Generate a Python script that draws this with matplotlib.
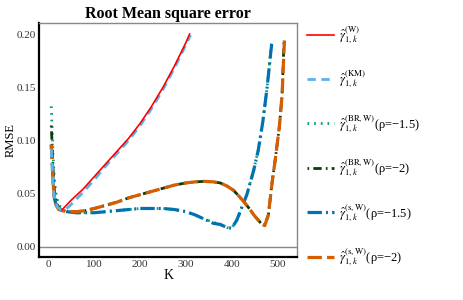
import matplotlib
matplotlib.use("Agg")
import matplotlib.pyplot as plt
from matplotlib.ticker import FormatStrFormatter

plt.rcParams["font.family"] = ["Liberation Serif", "DejaVu Serif"]
plt.rcParams["mathtext.fontset"] = "stix"

# values
k_w = [30, 50, 75, 100, 125, 150, 175, 200, 225, 250, 275, 300, 308]
rmse_w = [0.035, 0.044, 0.054, 0.066, 0.078, 0.090, 0.102, 0.116, 0.132,
          0.150, 0.170, 0.192, 0.200]

k_km = [6, 10, 15, 20, 30, 40, 50, 75, 100, 125, 150, 175, 200, 225, 250,
        275, 300, 310]
rmse_km = [0.092, 0.055, 0.042, 0.037, 0.034, 0.036, 0.040, 0.051, 0.063,
           0.076, 0.088, 0.100, 0.114, 0.130, 0.148, 0.168, 0.190, 0.199]

k_br15 = [6, 8, 10, 13, 17, 22, 30, 40, 60, 80, 100, 125, 150, 175, 200,
          225, 250, 275, 300, 320, 340, 360, 375, 390, 400, 411, 422, 433,
          448, 458, 468, 477, 487]
rmse_br15 = [0.132, 0.110, 0.085, 0.062, 0.048, 0.040, 0.035, 0.033, 0.032,
             0.032, 0.032, 0.033, 0.034, 0.035, 0.036, 0.036, 0.036, 0.035,
             0.033, 0.030, 0.026, 0.023, 0.021, 0.018, 0.0175, 0.025, 0.037,
             0.049, 0.072, 0.091, 0.118, 0.149, 0.192]

k_br2 = [6, 8, 10, 13, 17, 22, 30, 40, 50, 62, 80, 100, 125, 150, 175, 200,
         225, 250, 275, 300, 320, 340, 360, 375, 390, 404, 417, 429, 440,
         448, 458, 466, 472, 480, 488, 495, 504, 510, 514]
rmse_br2 = [0.114, 0.095, 0.072, 0.052, 0.042, 0.037, 0.034, 0.033, 0.033,
            0.033, 0.034, 0.036, 0.039, 0.042, 0.046, 0.049, 0.052, 0.055,
            0.058, 0.060, 0.061, 0.0615, 0.061, 0.060, 0.057, 0.053, 0.047,
            0.041, 0.035, 0.030, 0.025, 0.021, 0.020, 0.030, 0.060, 0.082,
            0.113, 0.143, 0.192]

k_s15 = [6, 8, 10, 13, 17, 22, 30, 40, 60, 80, 100, 125, 150, 175, 200,
         225, 250, 275, 300, 320, 340, 360, 375, 390, 400, 411, 422, 433,
         448, 458, 468, 477, 488]
rmse_s15 = [0.096, 0.080, 0.060, 0.045, 0.039, 0.036, 0.034, 0.033, 0.032,
            0.032, 0.032, 0.033, 0.034, 0.035, 0.036, 0.036, 0.036, 0.035,
            0.033, 0.030, 0.026, 0.022, 0.021, 0.018, 0.0175, 0.025, 0.037,
            0.049, 0.072, 0.091, 0.118, 0.149, 0.194]

k_s2 = [6, 8, 10, 13, 17, 22, 30, 40, 50, 62, 80, 100, 125, 150, 175, 200,
        225, 250, 275, 300, 320, 340, 360, 375, 390, 404, 417, 429, 440, 448,
        458, 466, 472, 480, 488, 495, 504, 510, 515]
rmse_s2 = [0.096, 0.080, 0.060, 0.045, 0.039, 0.035, 0.034, 0.033, 0.033,
           0.033, 0.034, 0.036, 0.039, 0.042, 0.046, 0.049, 0.052, 0.055,
           0.058, 0.060, 0.061, 0.0615, 0.061, 0.060, 0.057, 0.053, 0.047,
           0.041, 0.035, 0.030, 0.025, 0.021, 0.020, 0.030, 0.060, 0.082,
           0.113, 0.143, 0.194]

labels = [
    r"$\hat{\gamma}_{1,k}^{(\mathrm{W})}$",
    r"$\hat{\gamma}_{1,k}^{(\mathrm{KM})}$",
    r"$\hat{\gamma}_{1,k}^{(\mathrm{BR,W})}$(ρ=−1.5)",
    r"$\hat{\gamma}_{1,k}^{(\mathrm{BR,W})}$(ρ=−2)",
    r"$\hat{\gamma}_{1,k}^{(\mathrm{s,W})}$(ρ=−1.5)",
    r"$\hat{\gamma}_{1,k}^{(\mathrm{s,W})}$(ρ=−2)",
]

fig = plt.figure(figsize=(4.63, 3.0), dpi=100)
ax = fig.add_axes([0.085, 0.142, 0.556, 0.780])

ax.axhline(0, color="#888888", lw=1.0, zorder=1)

h_br15, = ax.plot(k_br15, rmse_br15, color="#009E73", lw=2.0,
                  linestyle=(0, (0.6, 1.8)), zorder=2)
h_br2, = ax.plot(k_br2, rmse_br2, color="#0B3D0B", lw=2.0,
                 linestyle=(0, (0.6, 1.5, 3, 1.5)), zorder=2)
h_s15, = ax.plot(k_s15, rmse_s15, color="#0072B2", lw=2.3,
                 linestyle=(0, (4.5, 1.3, 0.6, 1.3)), zorder=3)
h_s2, = ax.plot(k_s2, rmse_s2, color="#D55E00", lw=2.3,
                linestyle=(0, (4.5, 1.6)), zorder=3)
h_km, = ax.plot(k_km, rmse_km, color="#56B4E9", lw=2.0,
                linestyle=(0, (3, 2)), zorder=4)
h_w, = ax.plot(k_w, rmse_w, color="red", lw=1.2, zorder=5)

ax.set_xlim(-20, 542)
ax.set_ylim(-0.01, 0.21)
ax.set_xticks([0, 100, 200, 300, 400, 500])
ax.set_yticks([0.0, 0.05, 0.10, 0.15, 0.20])
ax.yaxis.set_major_formatter(FormatStrFormatter("%.2f"))
ax.tick_params(axis="y", length=0, labelsize=8, pad=2.5)
ax.tick_params(axis="x", length=0, labelsize=8, pad=2)
for lab in ax.get_xticklabels() + ax.get_yticklabels():
    lab.set_color("#333333")

for side in ("left", "bottom"):
    ax.spines[side].set_color("black")
    ax.spines[side].set_linewidth(1.6)
for side in ("top", "right"):
    ax.spines[side].set_color("#888888")
    ax.spines[side].set_linewidth(1.0)

ax.set_xlabel("K", fontsize=10, labelpad=0)
ax.set_ylabel("RMSE", fontsize=9)
ax.yaxis.set_label_coords(-0.09, 0.5)
ax.set_title("Root Mean square error", fontsize=11.5, fontweight="bold", pad=4)

ax.legend([h_w, h_km, h_br15, h_br2, h_s15, h_s2], labels,
          loc="upper left", bbox_to_anchor=(1.02, 1.02), frameon=False,
          fontsize=9, handlelength=2.2, handletextpad=0.4,
          labelspacing=1.8, borderaxespad=0)

fig.savefig("out.png", dpi=100)
